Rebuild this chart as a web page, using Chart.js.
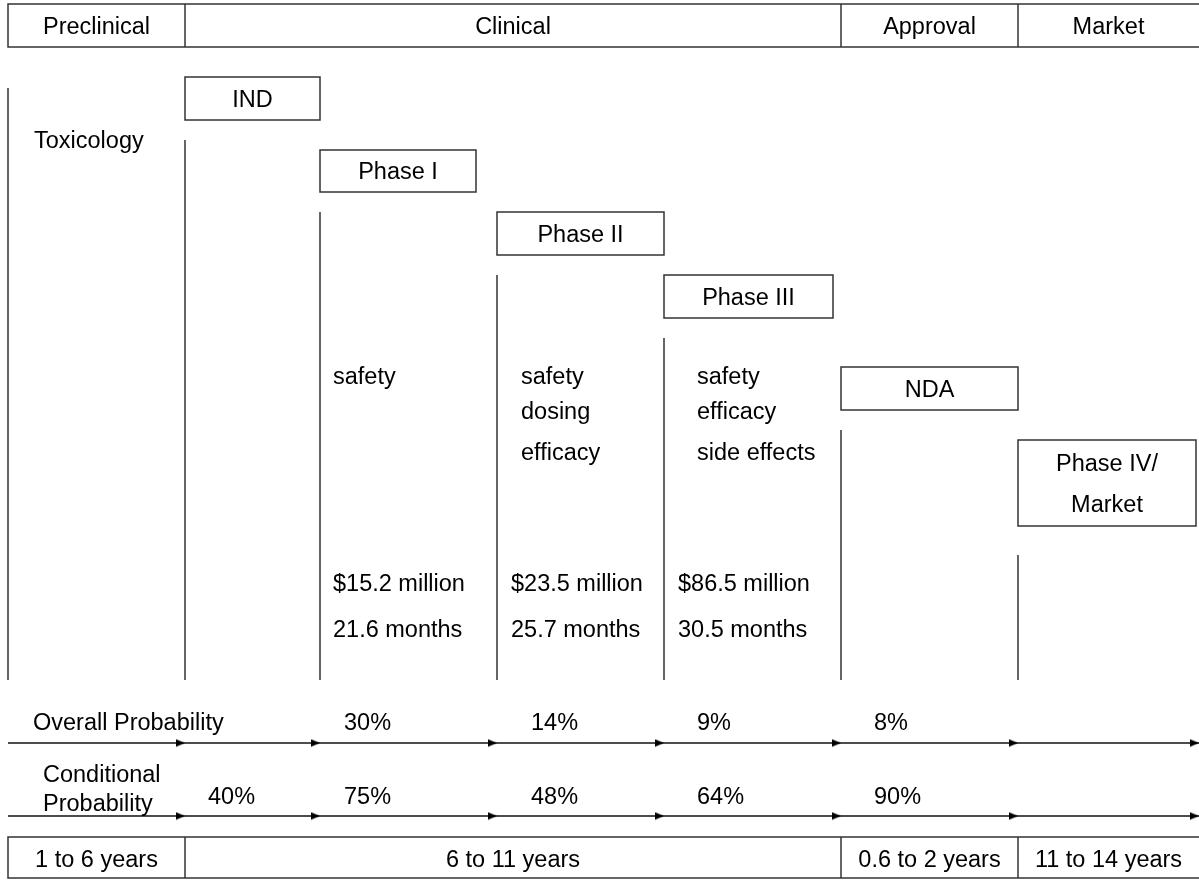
<!DOCTYPE html>
<html>
<head>
<meta charset="utf-8">
<title>Drug development pipeline</title>
<script src="https://cdn.jsdelivr.net/npm/chart.js@4.4.1/dist/chart.umd.min.js"></script>
<style>
  body { margin: 0; background: #fff; }
  #chart { display: block; }
</style>
</head>
<body>
<canvas id="chart" width="1199" height="880"></canvas>
<script>
// bands along the top and bottom
const bandLabels = ['Preclinical', 'Clinical', 'Approval', 'Market'];
const bandDurations = ['1 to 6 years', '6 to 11 years', '0.6 to 2 years', '11 to 14 years'];

// one milestone per stage column
const milestones = ['IND', 'Phase I', 'Phase II', 'Phase III', 'NDA', 'Phase IV/|Market'];

// clinical phases I-III
const trialGoals = [['safety'], ['safety', 'dosing', 'efficacy'], ['safety', 'efficacy', 'side effects']];
const trialCostMillions = [15.2, 23.5, 86.5];
const trialMonths = [21.6, 25.7, 30.5];

// probabilities in %, one per stage column (null = empty)
const overallProb = [null, 30, 14, 9, 8, null];
const conditionalProb = [40, 75, 48, 64, 90, null];

// ---- layout (axis units = pixels, axes are hidden) ----
const W = 1199, H = 880;
const edges = [8, 185, 320, 497, 664, 841, 1018, 1199];
const bandEdges = [8, 185, 841, 1018, 1199];
const boxRight = [320, 476, 664, 833, 1018, 1196];
const boxTop = [77, 150, 212, 275, 367, 440];
const boxH = [43, 42, 43, 43, 43, 86];
const stemTop = [88, 140, 212, 275, 338, 430, 555];
const stemBottom = 680;
const goalRows = [376, 411, 452];
const goalInset = [13, 24, 33];
const costInset = [13, 14, 14];
const probInset = [23, 24, 34, 33, 33, 33];
const arrowRows = [743, 816];

const FONT = '23.5px "Liberation Sans", Arial, sans-serif';
const TEXT_DY = 2;
const INK = '#000';
const LINE = '#333';

// little right-pointing arrowhead, tip at the image centre
const head = document.createElement('canvas');
head.width = 20;
head.height = 9;
(function () {
    const c = head.getContext('2d');
    c.fillStyle = '#000';
    c.beginPath();
    c.moveTo(1, 0.8);
    c.lineTo(10, 4.5);
    c.lineTo(1, 8.2);
    c.closePath();
    c.fill();
})();

const datasets = [];

// vertical stage lines
edges.slice(0, 7).forEach((ex, i) => {
    datasets.push({
        data: [{ x: ex, y: stemTop[i] }, { x: ex, y: stemBottom }],
        showLine: true,
        borderColor: LINE,
        borderWidth: 1.5,
        pointRadius: 0
    });
});

// probability arrows
arrowRows.forEach(ry => {
    datasets.push({
        data: edges.map(ex => ({ x: ex, y: ry })),
        showLine: true,
        borderColor: '#111',
        borderWidth: 1.5,
        pointStyle: head,
        pointRadius: ctx => ctx.dataIndex === 0 ? 0 : 4,
        clip: false
    });
});

const diagram = {
    id: 'diagram',
    afterDatasetsDraw(chart) {
        const { ctx, scales: { x, y } } = chart;
        const px = v => x.getPixelForValue(v);
        const py = v => y.getPixelForValue(v);

        function box(x0, y0, x1, y1) {
            ctx.strokeRect(px(x0), py(y0), px(x1) - px(x0), py(y1) - py(y0));
        }
        function vline(xv, y0, y1) {
            ctx.beginPath();
            ctx.moveTo(px(xv), py(y0));
            ctx.lineTo(px(xv), py(y1));
            ctx.stroke();
        }
        function text(t, xv, yv, align) {
            ctx.textAlign = align || 'left';
            ctx.fillText(t, px(xv), py(yv) + TEXT_DY);
        }

        ctx.save();
        ctx.strokeStyle = LINE;
        ctx.lineWidth = 1.5;
        ctx.fillStyle = INK;
        ctx.font = FONT;
        ctx.textBaseline = 'middle';

        // header and footer bands
        [[4, 47, bandLabels, 26], [837, 878, bandDurations, 859]].forEach(([top, bot, labels, ty]) => {
            box(bandEdges[0], top, W + 2, bot);
            bandEdges.slice(1, -1).forEach(ex => vline(ex, top, bot));
            labels.forEach((t, i) => text(t, (bandEdges[i] + bandEdges[i + 1]) / 2, ty, 'center'));
        });

        // milestone boxes
        milestones.forEach((m, i) => {
            const x0 = edges[i + 1], x1 = boxRight[i];
            const y0 = boxTop[i], y1 = boxTop[i] + boxH[i];
            box(x0, y0, x1, y1);
            const lines = m.split('|');
            const mid = (y0 + y1) / 2;
            lines.forEach((l, k) => {
                text(l, (x0 + x1) / 2, mid + (k - (lines.length - 1) / 2) * 41, 'center');
            });
        });

        text('Toxicology', 34, 140);

        // phase I-III details
        trialGoals.forEach((goals, i) => {
            const ex = edges[i + 2];
            goals.forEach((g, k) => text(g, ex + goalInset[i], goalRows[k]));
            text('$' + trialCostMillions[i].toFixed(1) + ' million', ex + costInset[i], 583);
            text(trialMonths[i].toFixed(1) + ' months', ex + costInset[i], 629);
        });

        // probability labels
        text('Overall Probability', 33, 722);
        text('Conditional', 43, 774);
        text('Probability', 43, 803);
        overallProb.forEach((p, i) => {
            if (p !== null) text(p + '%', edges[i + 1] + probInset[i], 722);
        });
        conditionalProb.forEach((p, i) => {
            if (p !== null) text(p + '%', edges[i + 1] + probInset[i], 796);
        });

        ctx.restore();
    }
};

new Chart(document.getElementById('chart'), {
    type: 'scatter',
    data: { datasets: datasets },
    options: {
        responsive: false,
        devicePixelRatio: 1,
        animation: false,
        layout: { padding: 0, autoPadding: false },
        plugins: {
            legend: { display: false },
            tooltip: { enabled: false }
        },
        events: [],
        scales: {
            x: { type: 'linear', min: 0, max: W, display: false },
            y: { type: 'linear', min: 0, max: H, reverse: true, display: false }
        }
    },
    plugins: [diagram]
});
</script>
</body>
</html>
